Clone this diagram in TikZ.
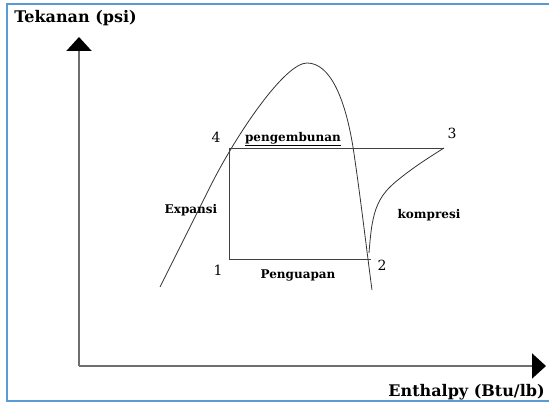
\documentclass[tikz,border=0pt]{standalone}
\usepackage{fontspec}
\setmainfont{DejaVu Serif}
\usetikzlibrary{arrows.meta}
\definecolor{frameblue}{RGB}{91,155,213}
\definecolor{axisgray}{RGB}{110,110,110}
\begin{document}
\begin{tikzpicture}[x=1pt,y=1pt,line width=0.8pt,inner sep=0pt,
    axis/.style={draw=axisgray,line width=2pt,-{Triangle[length=14pt,width=25pt,color=black]}},
    cycle/.style={draw=black!75,line width=0.9pt},
    curve/.style={draw=black!80,line width=0.8pt},
    axislabel/.style={font=\bfseries\fontsize{16}{18}\selectfont},
    proclabel/.style={font=\bfseries\fontsize{12}{14}\selectfont},
    numlabel/.style={font=\fontsize{14}{16}\selectfont}]
    \path[use as bounding box] (0,0) rectangle (549,403);
    % frame
    \draw[frameblue,line width=2pt] (560,399) -- (7,399) -- (7,2) -- (560,2);
    % axes
    \coordinate (O) at (79,37);
    \coordinate (ytip) at (79,366);
    \coordinate (xtip) at (546,37);
    \draw[axis] (O) -- (ytip);
    \draw[axis] (O) -- (xtip);
    \node[axislabel,anchor=west] (ylabel) at (14,385) {Tekanan (psi)};
    \node[axislabel,anchor=east] (xlabel) at (545,11) {Enthalpy (Btu/lb)};
    % saturation dome
    \draw[curve] (160,116) -- (210,216)
      .. controls (237,270) and (285,340) .. (307,340)
      .. controls (330,340) and (345,305) .. (353,256)
      .. controls (360,210) and (367,150) .. (372,113);
    % cycle
    \coordinate (p1) at (229,144);
    \coordinate (p2) at (371,144);
    \coordinate (p3) at (444,255);
    \coordinate (p4) at (229,255);
    \draw[cycle] (p1) -- (p4) -- (p3);
    \draw[cycle] (p1) -- (p2);
    \draw[curve] plot[smooth,tension=0.6] coordinates {(369,150) (372,178)
      (378,199) (390,216) (415,236) (p3)};
    % labels
    \node[numlabel] (n4) at (216,266) {4};
    \node[numlabel] (n3) at (452,270) {3};
    \node[numlabel] (n1) at (218,133) {1};
    \node[numlabel] (n2) at (382,138) {2};
    \node[proclabel] (kondensasi) at (293,264) {\underline{pengembunan}};
    \node[proclabel] (ekspansi) at (191,193) {Expansi};
    \node[proclabel] (kompresi) at (429,188) {kompresi};
    \node[proclabel] (evaporasi) at (298,128) {Penguapan};
  \end{tikzpicture}
\end{document}
